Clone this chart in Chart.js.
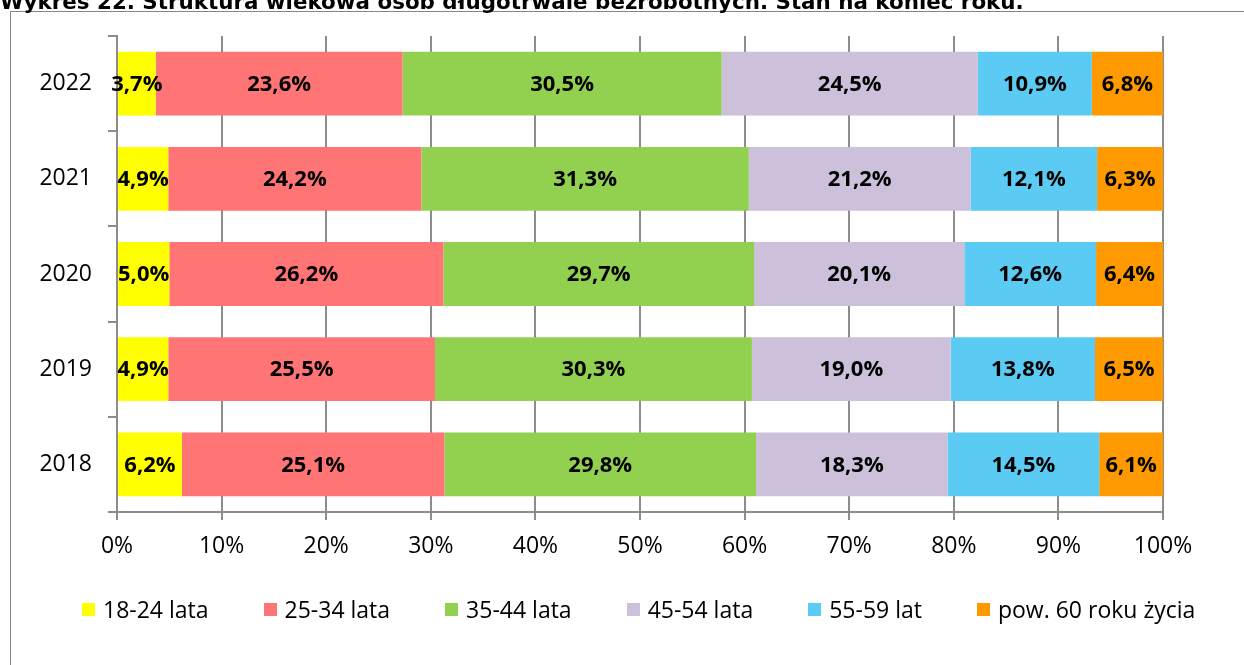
<!DOCTYPE html>
<html>
<head>
<meta charset="utf-8">
<script src="https://cdn.jsdelivr.net/npm/chart.js@4/dist/chart.umd.min.js"></script>
<style>
  html, body { margin: 0; padding: 0; background: #fff; overflow: hidden; }
  #wrap { position: relative; width: 1244px; height: 665px; overflow: hidden; }
  #title { position: absolute; left: 0; top: -9px; font-family: "DejaVu Sans", Verdana, sans-serif; font-weight: bold; font-size: 21.4px; line-height: 21.4px; white-space: nowrap; color: #000; z-index: 1; }
  #frame { position: absolute; left: 10px; top: 11px; width: 1300px; height: 700px; border: 1px solid #868686; }
  #c { position: absolute; left: 0; top: 0; }
  #legend { position: absolute; left: 82px; top: 594px; display: flex; align-items: center; gap: 55px; font-family: "Open Sans", sans-serif; font-size: 23px; line-height: 30px; color: #000; white-space: nowrap; }
  #legend .item { display: flex; align-items: center; }
  #legend .box { width: 13px; height: 13px; margin-right: 8px; }
</style>
</head>
<body>
<div id="wrap">
  <div id="frame"></div>
  <div id="title">Wykres 22. Struktura wiekowa osób długotrwale bezrobotnych. Stan na koniec roku.</div>
  <canvas id="c" width="1244" height="665"></canvas>
  <div id="legend"></div>
</div>
<script>
const years = ['2022', '2021', '2020', '2019', '2018'];
const seriesNames = ['18-24 lata', '25-34 lata', '35-44 lata', '45-54 lata', '55-59 lat', 'pow. 60 roku życia'];
const s18_24 = [3.7, 4.9, 5.0, 4.9, 6.2];
const s25_34 = [23.6, 24.2, 26.2, 25.5, 25.1];
const s35_44 = [30.5, 31.3, 29.7, 30.3, 29.8];
const s45_54 = [24.5, 21.2, 20.1, 19.0, 18.3];
const s55_59 = [10.9, 12.1, 12.6, 13.8, 14.5];
const s60plus = [6.8, 6.3, 6.4, 6.5, 6.1];
const xTickValues = [0, 10, 20, 30, 40, 50, 60, 70, 80, 90, 100];

const colors = ['#FFFF00', '#FF7575', '#92D050', '#CCC0DA', '#5BCBF3', '#FF9900'];
const allSeries = [s18_24, s25_34, s35_44, s45_54, s55_59, s60plus];

const FONT = '"Open Sans", sans-serif';

const labelPlugin = {
  id: 'barLabels',
  afterDatasetsDraw(chart) {
    const ctx = chart.ctx;
    ctx.save();
    ctx.font = 'bold 22px ' + FONT;
    ctx.fillStyle = '#000';
    ctx.textAlign = 'center';
    ctx.textBaseline = 'middle';
    chart.data.datasets.forEach((ds, di) => {
      const meta = chart.getDatasetMeta(di);
      meta.data.forEach((el, i) => {
        const p = el.getCenterPoint();
        const v = ds.data[i];
        ctx.fillText(v.toFixed(1).replace('.', ',') + '%', p.x, p.y + 1);
      });
    });
    ctx.restore();
  }
};

const htmlLegendPlugin = {
  id: 'htmlLegend',
  afterUpdate(chart) {
    const box = document.getElementById('legend');
    box.innerHTML = '';
    chart.data.datasets.forEach(ds => {
      const item = document.createElement('div');
      item.className = 'item';
      const sq = document.createElement('span');
      sq.className = 'box';
      sq.style.background = ds.backgroundColor;
      const tx = document.createElement('span');
      tx.textContent = ds.label;
      item.appendChild(sq);
      item.appendChild(tx);
      box.appendChild(item);
    });
  }
};

new Chart(document.getElementById('c'), {
  type: 'bar',
  data: {
    labels: years,
    datasets: allSeries.map((d, i) => ({
      label: seriesNames[i],
      data: d,
      backgroundColor: colors[i],
      borderWidth: 0,
      barPercentage: 0.67,
      categoryPercentage: 1.0
    }))
  },
  options: {
    indexAxis: 'y',
    responsive: false,
    animation: false,
    devicePixelRatio: 1,
    layout: { padding: { top: 36, right: 81, bottom: 93, left: 0 } },
    plugins: {
      title: { display: false },
      tooltip: { enabled: false },
      legend: { display: false }
    },
    scales: {
      x: {
        stacked: true,
        min: 0,
        max: 100,
        z: 1,
        afterBuildTicks(scale) { scale.ticks = xTickValues.map(v => ({ value: v })); },
        afterFit(scale) { scale.height = 60; },
        ticks: {
          font: { family: FONT, size: 23 },
          color: '#000',
          padding: 13,
          maxRotation: 0,
          callback: v => v + '%'
        },
        grid: {
          color: 'rgba(70,70,70,0.62)',
          lineWidth: 2,
          tickLength: 8,
          drawOnChartArea: true
        },
        border: { color: '#8c8c8c', width: 2 }
      },
      y: {
        stacked: true,
        afterFit(scale) { scale.width = 117; },
        ticks: {
          font: { family: FONT, size: 23 },
          color: '#000',
          padding: 16
        },
        grid: {
          offset: true,
          drawOnChartArea: false,
          color: '#8c8c8c',
          lineWidth: 2,
          tickLength: 9
        },
        border: { color: '#8c8c8c', width: 2 }
      }
    }
  },
  plugins: [labelPlugin, htmlLegendPlugin]
});
</script>
</body>
</html>
